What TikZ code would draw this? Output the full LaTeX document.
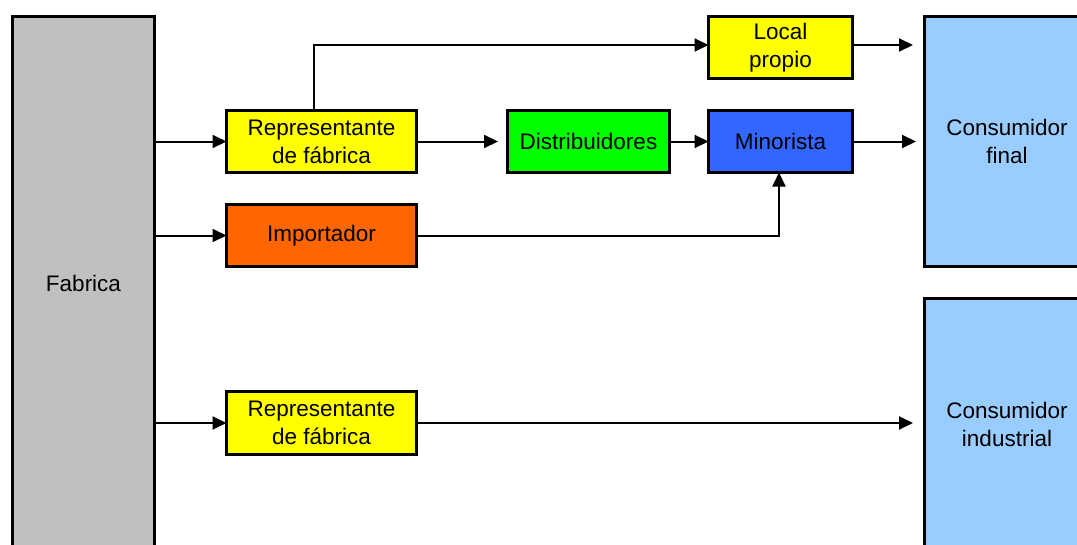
\documentclass[tikz,border=0pt]{standalone}
\usepackage{fontspec}
\setmainfont{Liberation Sans}
\usetikzlibrary{arrows.meta}
\definecolor{fgray}{HTML}{C0C0C0}
\definecolor{fyellow}{HTML}{FFFF00}
\definecolor{fgreen}{HTML}{00FF00}
\definecolor{fblue}{HTML}{3366FF}
\definecolor{forange}{HTML}{FF6600}
\definecolor{flight}{HTML}{99CCFF}
\begin{document}
\begin{tikzpicture}[x=1pt,y=-1pt,
  box/.style={draw=black,line width=3pt,inner sep=0pt,outer sep=0pt,align=center,
    font=\fontsize{22.5}{28}\selectfont,anchor=north west,xshift=1.5pt,yshift=-1.5pt},
  conn/.style={line width=2pt,-{Triangle[length=14pt,width=13pt]}}]
\useasboundingbox (0,0) rectangle (1077,544);
\clip (0,0) rectangle (1077,544);
\fill[white] (0,0) rectangle (1077,544);
\node[box,fill=fgray,minimum width=142pt,minimum height=533pt] (fab) at (11,15) {Fabrica};
\node[box,fill=fyellow,minimum width=190pt,minimum height=62pt] (rep1) at (225,109) {Representante\\de fábrica};
\node[box,fill=fyellow,minimum width=144pt,minimum height=62pt] (loc) at (707,15) {Local\\propio};
\node[box,fill=fgreen,minimum width=162pt,minimum height=62pt] (dis) at (506,109) {Distribuidores};
\node[box,fill=fblue,minimum width=144pt,minimum height=62pt] (min) at (707,109) {Minorista};
\node[box,fill=forange,minimum width=190pt,minimum height=62pt] (imp) at (225,203) {Importador};
\node[box,fill=fyellow,minimum width=190pt,minimum height=63pt] (rep2) at (225,390) {Representante\\de fábrica};
\node[box,fill=flight,minimum width=165pt,minimum height=250pt] (cf) at (923,15) {Consumidor\\final};
\node[box,fill=flight,minimum width=165pt,minimum height=251pt] (ci) at (923,297) {Consumidor\\industrial};
\coordinate (tdis) at (498,142);
\coordinate (tloc) at (913,45);
\coordinate (tmin) at (916,142);
\coordinate (tci) at (913,423);
\draw[conn] (fab.east |- rep1.west) -- (rep1.west);
\draw[conn] (fab.east |- imp.west) -- (imp.west);
\draw[conn] (fab.east |- 0,423) -- (rep2.west |- 0,423);
\draw[conn] (rep1.east) -- (tdis |- rep1.east);
\draw[conn] (dis.east) -- (min.west);
\draw[conn] (rep1.north -| 314,0) |- (loc.west |- tloc);
\draw[conn] (loc.east |- tloc) -- (tloc);
\draw[conn] (min.east) -- (tmin |- min.east);
\draw[conn] (imp.east) -| (min.south -| 779,0);
\draw[conn] (rep2.east |- tci) -- (tci);
\end{tikzpicture}
\end{document}
